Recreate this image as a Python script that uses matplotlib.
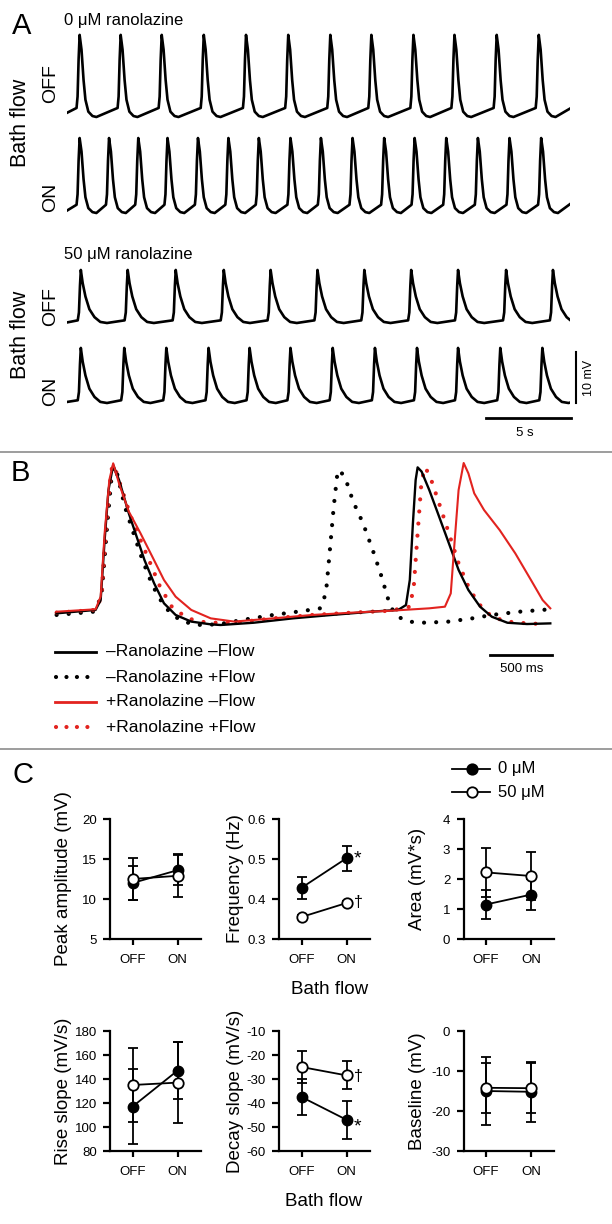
"""Ranolazine / bath flow figure: spontaneous traces (A), overlaid transients (B), summary (C)."""

import matplotlib

matplotlib.use("Agg")
import matplotlib.pyplot as plt
from matplotlib.lines import Line2D

plt.rcParams["font.family"] = ["Liberation Sans", "DejaVu Sans"]

W, H = 612, 1224
RED = "#e2231f"

# ---------------- panel A data (time in s, voltage in mV above trough) ----------------
T_END = 29.45
PEAKS_0_OFF = [0.75, 3.15, 5.55, 8.01, 10.48, 12.95, 15.41, 17.81, 20.27, 22.67, 25.14, 27.60]
PEAKS_0_ON = [0.75, 2.47, 4.18, 5.89, 7.67, 9.45, 11.23, 13.08, 14.86, 16.71, 18.56, 20.34,
              22.19, 24.04, 25.89, 27.74]
PEAKS_50_OFF = [0.82, 3.56, 6.37, 9.18, 11.92, 14.66, 17.40, 20.14, 22.88, 25.69, 28.43]
PEAKS_50_ON = [0.82, 3.36, 5.82, 8.29, 10.69, 13.08, 15.55, 18.02, 20.48, 22.88, 25.35, 27.81]

# spike shape relative to the peak (s) and as a fraction of amplitude
SHAPE_0_T = [-0.18, -0.12, -0.06, 0.0, 0.11, 0.23, 0.34, 0.51, 0.75, 0.98]
SHAPE_0_V = [0.11, 0.25, 0.70, 1.0, 0.82, 0.45, 0.21, 0.065, 0.012, 0.0]
SHAPE_50_T = [-0.18, -0.11, -0.05, 0.0, 0.11, 0.27, 0.50, 0.80, 1.14, 1.53]
SHAPE_50_V = [0.05, 0.20, 0.70, 1.0, 0.75, 0.50, 0.26, 0.11, 0.02, 0.0]

ROW_AMP = [16.1, 14.7, 10.4, 10.8]
ROW_START = [0.8, 0.45, 0.1, 0.2]
ROW_END = [1.7, 1.8, 0.3, 0.1]

# ---------------- panel B data (time in ms, normalised voltage) ----------------
B_CTRL_NOFLOW_T = [0, 314, 355, 387, 418, 456, 503, 582, 645, 708, 786, 865, 959, 1085, 1242,
                   1321, 1588, 1903, 2217, 2532, 2752, 2815, 2846, 2871, 2893, 2909, 2941, 3003,
                   3082, 3161, 3239, 3318, 3412, 3507, 3632, 3790, 3978]
B_CTRL_NOFLOW_V = [0.072, 0.093, 0.154, 0.525, 0.833, 0.988, 0.895, 0.689, 0.545, 0.401, 0.257,
                   0.134, 0.062, 0.021, 0.004, 0.0, 0.014, 0.041, 0.062, 0.082, 0.093, 0.123,
                   0.278, 0.628, 0.895, 0.973, 0.947, 0.833, 0.669, 0.504, 0.340, 0.216, 0.113,
                   0.051, 0.014, 0.006, 0.010]
B_CTRL_FLOW_T = [0, 299, 362, 409, 450, 487, 550, 629, 692, 755, 818, 896, 991, 1116, 1305, 1494,
                 1745, 1997, 2123, 2170, 2202, 2233, 2264, 2280, 2327, 2390, 2469, 2547, 2610,
                 2658, 2689, 2752, 2831, 2972, 3161, 3349, 3507, 3727, 3978]
B_CTRL_FLOW_V = [0.062, 0.082, 0.175, 0.628, 0.977, 0.936, 0.730, 0.545, 0.401, 0.278, 0.175,
                 0.093, 0.031, 0.0, 0.004, 0.031, 0.062, 0.088, 0.103, 0.195, 0.463, 0.730,
                 0.947, 0.957, 0.905, 0.761, 0.628, 0.463, 0.319, 0.195, 0.113, 0.051, 0.021,
                 0.014, 0.021, 0.041, 0.062, 0.082, 0.097]
B_RAN_NOFLOW_T = [0, 314, 355, 387, 425, 456, 503, 582, 676, 771, 865, 959, 1085, 1242, 1431,
                  1745, 2060, 2374, 2689, 3003, 3129, 3176, 3208, 3239, 3280, 3318, 3365, 3444,
                  3570, 3696, 3822, 3916, 3978]
B_RAN_NOFLOW_V = [0.082, 0.097, 0.175, 0.566, 0.895, 0.998, 0.874, 0.700, 0.566, 0.422, 0.278,
                  0.175, 0.093, 0.041, 0.021, 0.041, 0.062, 0.076, 0.088, 0.103, 0.113, 0.195,
                  0.525, 0.833, 1.0, 0.936, 0.813, 0.710, 0.586, 0.442, 0.278, 0.154, 0.103]
B_RAN_FLOW_T = [0, 314, 362, 399, 440, 462, 519, 598, 676, 755, 833, 928, 1054, 1211, 1431, 1745,
                2060, 2374, 2689, 2846, 2878, 2909, 2941, 2972, 3019, 3082, 3161, 3239, 3318,
                3397, 3507, 3632, 3790, 3916]
B_RAN_FLOW_V = [0.076, 0.093, 0.175, 0.607, 0.957, 0.988, 0.854, 0.669, 0.525, 0.381, 0.237,
                0.113, 0.041, 0.014, 0.014, 0.041, 0.062, 0.076, 0.088, 0.113, 0.237, 0.566,
                0.895, 0.973, 0.895, 0.751, 0.566, 0.381, 0.237, 0.134, 0.051, 0.021, 0.010,
                0.006]

# ---------------- panel C data (OFF, ON) ----------------
C_LABELS = ["Peak amplitude (mV)", "Frequency (Hz)", "Area (mV*s)",
            "Rise slope (mV/s)", "Decay slope (mV/s)", "Baseline (mV)"]
C_YLIM = [(5, 20), (0.3, 0.6), (0, 4), (80, 180), (-60, -10), (-30, 0)]
C_YSTEP = [5, 0.1, 1, 20, 10, 10]
CTRL_MEAN = [[12.0, 13.6], [0.428, 0.502], [1.15, 1.48], [117, 147], [-37.5, -47.0], [-15.0, -15.2]]
CTRL_SEM = [[2.1, 1.9], [0.028, 0.031], [0.47, 0.52], [31, 24], [7.5, 8.0], [8.4, 7.5]]
RAN_MEAN = [[12.5, 12.9], [0.355, 0.390], [2.22, 2.10], [135, 137], [-25.0, -28.5], [-14.2, -14.3]]
RAN_SEM = [[2.6, 2.7], [0.004, 0.004], [0.83, 0.80], [31, 34], [6.5, 5.8], [6.2, 6.2]]
FLOW = ["OFF", "ON"]
# panel index -> (mark for 0 uM, y; mark for 50 uM, y)
SIG = {1: ("*", 0.499, "\u2020", 0.392), 4: ("*", -50.0, "\u2020", -28.8)}


def px_axes(fig, x0, x1, y0, y1):
    return fig.add_axes([x0 / W, 1 - y1 / H, (x1 - x0) / W, (y1 - y0) / H])


def build_trace(peaks, amp, shape_t, shape_v, v_start, v_end):
    t, v = [0.0], [v_start]
    for p in peaks:
        for dt, fv in zip(shape_t, shape_v):
            t.append(p + dt)
            v.append(fv * amp)
    if t[-1] < T_END:
        t.append(T_END)
        v.append(v_end)
    return t, v


def main():
    fig = plt.figure(figsize=(W / 100, H / 100), dpi=100)

    # overlay in pixel coordinates for labels, separators and legends
    ov = fig.add_axes([0, 0, 1, 1], zorder=5)
    ov.set_xlim(0, W)
    ov.set_ylim(H, 0)
    ov.axis("off")
    ov.patch.set_alpha(0)

    # ---------- panel A ----------
    x_a0 = 66.8
    px_per_s = 17.1
    px_per_mv = 5.1
    troughs = [117, 213, 323, 403]
    peaks = [PEAKS_0_OFF, PEAKS_0_ON, PEAKS_50_OFF, PEAKS_50_ON]
    shapes = [(SHAPE_0_T, SHAPE_0_V), (SHAPE_0_T, SHAPE_0_V),
              (SHAPE_50_T, SHAPE_50_V), (SHAPE_50_T, SHAPE_50_V)]
    row_axes = []
    for i in range(4):
        ax = px_axes(fig, x_a0, x_a0 + T_END * px_per_s,
                     troughs[i] - 18 * px_per_mv, troughs[i] + 4 * px_per_mv)
        ax.set_xlim(0, T_END)
        ax.set_ylim(-4, 18)
        ax.axis("off")
        ax.patch.set_alpha(0)
        t, v = build_trace(peaks[i], ROW_AMP[i], shapes[i][0], shapes[i][1],
                           ROW_START[i], ROW_END[i])
        ax.plot(t, v, color="black", lw=1.9, solid_joinstyle="round")
        row_axes.append(ax)

    ax = row_axes[3]
    ax.plot([24.5, 29.5], [-2.94, -2.94], color="black", lw=2, clip_on=False)
    ax.plot([29.8, 29.8], [0, 10], color="black", lw=1.5, clip_on=False)
    ax.text(26.8, -5.9, "5 s", ha="center", va="center", fontsize=9.5)
    ax.text(30.55, 5, "10 mV", ha="center", va="center", rotation=90, fontsize=9)

    ov.text(12, 26, "A", fontsize=21, ha="left", va="center")
    ov.text(64, 20, "0 \u03bcM ranolazine", fontsize=12, ha="left", va="center")
    ov.text(64, 255, "50 \u03bcM ranolazine", fontsize=12, ha="left", va="center")
    for y in (123, 335):
        ov.text(21, y, "Bath flow", fontsize=15.5, rotation=90, ha="center", va="center")
    for y, s in ((84, "OFF"), (197, "ON"), (307, "OFF"), (391, "ON")):
        ov.text(51, y, s, fontsize=14, rotation=90, ha="center", va="center")

    ov.plot([0, W], [452, 452], color="#8c8c8c", lw=1.2)
    ov.plot([0, W], [749, 749], color="#8c8c8c", lw=1.2)

    # ---------- panel B ----------
    axb = px_axes(fig, 56.6, 550.3, 463, 625)
    axb.set_xlim(0, 3978)
    axb.set_ylim(0, 1)
    axb.axis("off")
    axb.patch.set_alpha(0)
    dots = (0, (0.01, 2.9))
    axb.plot(B_CTRL_NOFLOW_T, B_CTRL_NOFLOW_V, color="black", lw=1.7, clip_on=False, zorder=3)
    axb.plot(B_CTRL_FLOW_T, B_CTRL_FLOW_V, color="black", lw=3.0, ls=dots,
             dash_capstyle="round", clip_on=False, zorder=2)
    axb.plot(B_RAN_NOFLOW_T, B_RAN_NOFLOW_V, color=RED, lw=1.5, clip_on=False, zorder=4)
    axb.plot(B_RAN_FLOW_T, B_RAN_FLOW_V, color=RED, lw=3.0, ls=dots,
             dash_capstyle="round", clip_on=False, zorder=2)
    axb.plot([3491, 3991], [-0.185, -0.185], color="black", lw=2, clip_on=False)
    axb.text(3749, -0.27, "500 ms", ha="center", va="center", fontsize=9.5)

    ov.text(11, 473, "B", fontsize=21, ha="left", va="center")
    legend_b = [("\u2013Ranolazine \u2013Flow", "black", "-"),
                ("\u2013Ranolazine +Flow", "black", dots),
                ("+Ranolazine \u2013Flow", RED, "-"),
                ("+Ranolazine +Flow", RED, dots)]
    for k, (lab, col, ls) in enumerate(legend_b):
        y = 652 + 25 * k
        if ls == "-":
            ov.add_line(Line2D([55, 96], [y, y], color=col, lw=2))
        else:
            ov.add_line(Line2D([56, 94], [y, y], color=col, lw=3.0, ls=(0, (0.01, 2.5)),
                               dash_capstyle="round"))
        ov.text(106, y, lab, fontsize=12.5, ha="left", va="center")

    # ---------- panel C ----------
    ov.text(13, 775, "C", fontsize=21, ha="left", va="center")
    cols = [110, 279, 463.5]
    lab_x = [63, 235, 417]
    rows = [(819, 939), (1031, 1151)]
    for k in range(6):
        r, c = divmod(k, 3)
        x0 = cols[c]
        ax = px_axes(fig, x0, x0 + 90.5, rows[r][0], rows[r][1])
        x = [0, 1]
        ax.errorbar(x, CTRL_MEAN[k], yerr=CTRL_SEM[k], color="black", lw=1.3,
                    marker="o", ms=7.5, mfc="black", mec="black", capsize=3.5,
                    capthick=1.3, elinewidth=1.3, zorder=3, clip_on=False)
        ax.errorbar(x, RAN_MEAN[k], yerr=RAN_SEM[k], color="black", lw=1.3,
                    marker="o", ms=7.5, mfc="white", mec="black", mew=1.3, capsize=3.5,
                    capthick=1.3, elinewidth=1.3, zorder=4, clip_on=False)
        if k in SIG:
            m1, y1, m2, y2 = SIG[k]
            ax.text(1.15, y1, m1, fontsize=14, ha="left", va="center")
            ax.text(1.16, y2, m2, fontsize=11.5, ha="left", va="center")
        lo, hi = C_YLIM[k]
        ax.set_xlim(-0.5, 1.51)
        ax.set_ylim(lo, hi)
        step = C_YSTEP[k]
        ticks = [lo + step * j for j in range(int(round((hi - lo) / step)) + 1)]
        ax.set_yticks(ticks)
        if step < 1:
            ax.set_yticklabels([f"{t:.1f}" for t in ticks])
        else:
            ax.set_yticklabels([f"{t:g}" for t in ticks])
        ax.set_xticks(x)
        ax.set_xticklabels(FLOW)
        for s in ("top", "right"):
            ax.spines[s].set_visible(False)
        for s in ("left", "bottom"):
            ax.spines[s].set_linewidth(1.6)
        ax.tick_params(axis="both", width=1.6, labelsize=9.5, direction="out")
        ax.tick_params(axis="x", length=4.5, pad=6.5)
        ax.tick_params(axis="y", length=5, pad=4.5)
        ax.patch.set_alpha(0)
        ov.text(lab_x[c], sum(rows[r]) / 2, C_LABELS[k], fontsize=13.5, rotation=90,
                ha="center", va="center")

    ov.text(330, 989, "Bath flow", fontsize=13.5, ha="center", va="center")
    ov.text(324, 1202, "Bath flow", fontsize=13.5, ha="center", va="center")

    for y, lab, face in ((769, "0 \u03bcM", "black"), (792, "50 \u03bcM", "white")):
        ov.add_line(Line2D([452, 490], [y, y], color="black", lw=1.3))
        ov.add_line(Line2D([471.5], [y], marker="o", ms=7.5, mfc=face, mec="black", mew=1.3))
        ov.text(498, y, lab, fontsize=12, ha="left", va="center")

    fig.savefig("out.png", dpi=100)
    plt.close(fig)


if __name__ == "__main__":
    main()
